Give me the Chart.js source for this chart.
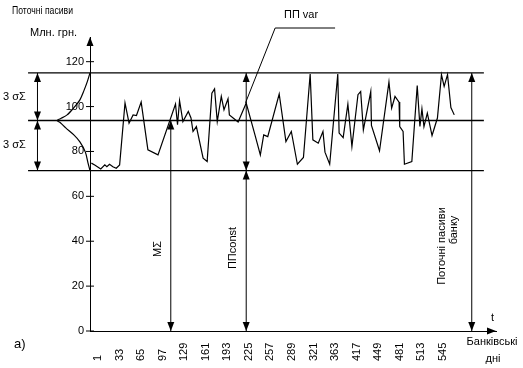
<!DOCTYPE html>
<html>
<head>
<meta charset="utf-8">
<script src="https://cdn.jsdelivr.net/npm/chart.js@4.4.1/dist/chart.umd.min.js"></script>
<style>
  body { margin: 0; background: #fff; }
  canvas { display: block; }
</style>
</head>
<body>
<canvas id="chart" width="523" height="368"></canvas>
<script>
// підписи днів на осі X (кожні 32 позиції)
const dayLabels = ['1', '33', '65', '97', '129', '161', '193', '225', '257', '289', '321', '363', '417', '449', '481', '513', '545'];

// поточні пасиви: позиція дня та значення, млн. грн.
const dayIndex = [-10, -5, 4, 10, 13, 17, 22, 27, 32, 40, 46, 52, 57, 64, 74, 89,
  115, 118, 121, 126, 134, 138, 141, 146, 156, 162, 169, 173, 177, 183, 187, 193, 195,
  208, 220, 233, 241, 246, 252, 269, 279, 287, 296, 305, 315, 319, 327, 334, 337, 344,
  356, 358, 364, 371, 377, 386, 390, 394, 405, 406, 418, 432, 436, 441, 447, 448, 453,
  455, 466, 474, 478, 481, 484, 489, 496, 504, 510, 514, 519, 524, 529];
const passives = [74.8, 74.0, 72.2, 74.0, 73.2, 74.3, 73.2, 72.5, 74.0, 101.6, 92.6, 96.3, 96.0, 102.0, 80.7, 78.5,
  101.1, 91.9, 102.6, 93.3, 97.8, 94.9, 88.9, 91.1, 77.0, 75.5, 106.0, 107.9, 93.3, 104.5, 98.6, 103.5, 96.3,
  93.1, 101.6, 87.4, 78.5, 87.4, 86.6, 105.6, 84.4, 88.9, 74.3, 77.3, 114.5, 85.2, 83.7, 88.9, 79.7, 74.3,
  114.5, 88.2, 86.2, 101.1, 82.2, 105.3, 106.7, 89.6, 106.7, 91.6, 80.3, 110.9, 99.3, 104.5, 102.0, 91.1, 88.9,
  74.3, 75.5, 109.4, 91.1, 99.0, 91.1, 97.1, 87.1, 94.9, 114.2, 109.0, 114.2, 99.6, 96.3];

// рівні: M + 3σ, M, M - 3σ
const levelValues = [115, 93.8, 71.5];
const levelSpan = [-104, 573];

// крива нормального розподілу зліва
const bellX = [-12, -16, -21, -27, -36, -46, -56, -61, -56, -48, -36, -27, -19, -15, -12];
const bellY = [115, 111.1, 107.1, 103.0, 99.5, 96.3, 94.6, 93.8, 92.8, 90.5, 87.4, 84.3, 79.8, 74.9, 71.5];

// позиції стрілок по осі X
const arrowM = 108;
const arrowConst = 220;
const arrowBank = 555;
const arrowSigma = -90;

Chart.defaults.font.family = '"Liberation Sans", Arial, sans-serif';
Chart.defaults.font.size = 11;
Chart.defaults.color = '#000';

const FONT = '11px "Liberation Sans", Arial, sans-serif';

function head(ctx, x, y, dir) {
  const s = dir === 'up' ? 1 : -1;
  ctx.beginPath();
  ctx.moveTo(x, y);
  ctx.lineTo(x - 3.5, y + 9 * s);
  ctx.lineTo(x + 3.5, y + 9 * s);
  ctx.closePath();
  ctx.fill();
}

function vArrow(ctx, x, yTop, yBot, topHead, botHead) {
  ctx.beginPath();
  ctx.moveTo(x, yTop);
  ctx.lineTo(x, yBot);
  ctx.stroke();
  if (topHead) head(ctx, x, yTop, 'up');
  if (botHead) head(ctx, x, yBot, 'down');
}

function rotText(ctx, str, x, y) {
  ctx.save();
  ctx.translate(x, y);
  ctx.rotate(-Math.PI / 2);
  ctx.textAlign = 'center';
  ctx.textBaseline = 'middle';
  ctx.fillText(str, 0, 0);
  ctx.restore();
}

const decor = {
  id: 'decor',
  afterDraw(chart) {
    const ctx = chart.ctx;
    const xs = chart.scales.x, ys = chart.scales.y;
    const X = v => xs.getPixelForValue(v);
    const Y = v => ys.getPixelForValue(v);
    const a = chart.chartArea;
    ctx.save();
    ctx.strokeStyle = '#000';
    ctx.fillStyle = '#000';
    ctx.lineWidth = 1;

    // стрілки осей
    head(ctx, a.left, a.top, 'up');
    ctx.beginPath();
    ctx.moveTo(a.right, a.bottom);
    ctx.lineTo(a.right - 9, a.bottom - 3.5);
    ctx.lineTo(a.right - 9, a.bottom + 3.5);
    ctx.closePath();
    ctx.fill();

    // поділки осі Y
    ys.ticks.forEach(t => {
      ctx.beginPath();
      ctx.moveTo(a.left - 4, Y(t.value));
      ctx.lineTo(a.left + 4, Y(t.value));
      ctx.stroke();
    });

    // підписи осі X
    ctx.font = FONT;
    xs.ticks.forEach((t, i) => {
      ctx.save();
      ctx.translate(X(t.value), 361);
      ctx.rotate(-Math.PI / 2);
      ctx.textAlign = 'left';
      ctx.textBaseline = 'middle';
      ctx.fillText(dayLabels[i], 0, 0);
      ctx.restore();
    });

    const [up, mean, low] = levelValues;
    // 3σ зліва
    vArrow(ctx, X(arrowSigma), Y(up), Y(mean), true, true);
    vArrow(ctx, X(arrowSigma), Y(mean), Y(low), true, true);
    // MΣ
    vArrow(ctx, X(arrowM), Y(mean), Y(0), true, true);
    // ППconst
    vArrow(ctx, X(arrowConst), Y(up), Y(low), true, true);
    vArrow(ctx, X(arrowConst), Y(low), Y(0), true, true);
    // поточні пасиви банку
    vArrow(ctx, X(arrowBank), Y(up), Y(0), true, true);

    // виноска ПП var
    ctx.beginPath();
    ctx.moveTo(X(352), 28);
    ctx.lineTo(X(263), 28);
    ctx.lineTo(X(arrowConst - 1), Y(101.7));
    ctx.stroke();

    // тексти
    ctx.textBaseline = 'middle';
    ctx.textAlign = 'left';
    ctx.fillText('Поточні пасиви', 12, 11, 61);
    ctx.fillText('Млн. грн.', 30, 33, 48);
    ctx.fillText('3 σΣ', 3, 97);
    ctx.fillText('3 σΣ', 3, 145);
    ctx.fillText('ПП var', 284, 15);
    ctx.fillText('t', 491, 318);
    ctx.textAlign = 'center';
    ctx.fillText('Банківські', 492, 342);
    ctx.fillText('дні', 493, 359);
    rotText(ctx, 'MΣ', 158, 249);
    rotText(ctx, 'ППconst', 233, 248);
    rotText(ctx, 'Поточні пасиви', 442, 246);
    rotText(ctx, 'банку', 454, 230);
    ctx.font = '13px "Liberation Sans", Arial, sans-serif';
    ctx.textAlign = 'left';
    ctx.fillText('a)', 14, 344);
    ctx.restore();
  }
};

const levelSets = levelValues.map(v => ({
  data: levelSpan.map(x => ({ x, y: v })),
  borderColor: '#000',
  borderWidth: 1.3,
  pointRadius: 0,
  clip: false
}));

new Chart(document.getElementById('chart'), {
  type: 'line',
  data: {
    datasets: [
      {
        data: dayIndex.map((x, i) => ({ x, y: passives[i] })),
        borderColor: '#000',
        borderWidth: 1.2,
        pointRadius: 0,
        tension: 0
      },
      {
        data: bellX.map((x, i) => ({ x, y: bellY[i] })),
        borderColor: '#000',
        borderWidth: 1.2,
        pointRadius: 0,
        tension: 0.3,
        clip: false
      },
      ...levelSets
    ]
  },
  options: {
    responsive: false,
    animation: false,
    layout: { padding: { top: 37, right: 27, left: 0, bottom: 0 } },
    plugins: { legend: { display: false }, tooltip: { enabled: false } },
    scales: {
      x: {
        type: 'linear',
        min: -12,
        max: 591,
        grid: { display: false, drawTicks: false },
        border: { color: '#000', width: 1 },
        ticks: { display: false },
        afterBuildTicks: s => { s.ticks = dayLabels.map((l, i) => ({ value: i * 32 })); },
        afterFit: s => { s.height = 37; }
      },
      y: {
        min: 0,
        max: 131,
        grid: { display: false, drawTicks: false },
        border: { color: '#000', width: 1 },
        ticks: { stepSize: 20, padding: 6, color: '#000' },
        afterBuildTicks: s => { s.ticks = s.ticks.filter(t => t.value <= 120); },
        afterFit: s => { s.width = 90; }
      }
    }
  },
  plugins: [decor]
});
</script>
</body>
</html>
